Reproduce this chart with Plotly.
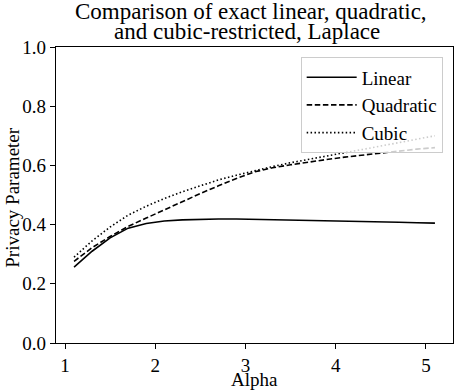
import plotly.graph_objects as go

# values
alpha = [1.1, 1.3, 1.5, 1.7, 1.9, 2.1, 2.3, 2.5, 2.7, 2.9, 3.1,
         3.3, 3.5, 3.7, 3.9, 4.1, 4.3, 4.5, 4.7, 4.9, 5.1]
linear = [0.256, 0.310, 0.355, 0.388, 0.404, 0.412, 0.416, 0.418, 0.419, 0.419, 0.418,
          0.417, 0.416, 0.415, 0.413, 0.412, 0.410, 0.409, 0.408, 0.406, 0.405]
quadratic = [0.276, 0.322, 0.360, 0.394, 0.422, 0.450, 0.478, 0.505, 0.531, 0.556, 0.578,
             0.592, 0.602, 0.612, 0.620, 0.628, 0.635, 0.642, 0.649, 0.655, 0.660]
cubic = [0.290, 0.345, 0.392, 0.432, 0.462, 0.488, 0.511, 0.532, 0.551, 0.567, 0.582,
         0.596, 0.609, 0.621, 0.632, 0.643, 0.654, 0.665, 0.676, 0.688, 0.700]

x_ticks = [1, 2, 3, 4, 5]
y_ticks = [0.0, 0.2, 0.4, 0.6, 0.8, 1.0]

FONT = "Liberation Serif, Times New Roman, Times, serif"


def text_font(size=19):
    return dict(family=FONT, size=size, color="black")


fig = go.Figure()
fig.add_trace(go.Scatter(x=alpha, y=linear, name="Linear", mode="lines",
                         line=dict(color="black", width=1.6)))
fig.add_trace(go.Scatter(x=alpha, y=quadratic, name="Quadratic", mode="lines",
                         line=dict(color="black", width=1.6, dash="5.5px,2.6px")))
fig.add_trace(go.Scatter(x=alpha, y=cubic, name="Cubic", mode="lines",
                         line=dict(color="black", width=1.6, dash="1.5px,2.4px")))

# two title lines placed separately (tight matplotlib line spacing)
fig.add_annotation(text="Comparison of exact linear, quadratic,", xref="paper", yref="paper",
                   x=0.49, y=1.12, xanchor="center", yanchor="middle", showarrow=False,
                   font=text_font(23))
fig.add_annotation(text="and cubic-restricted, Laplace", xref="paper", yref="paper",
                   x=0.48, y=1.054, xanchor="center", yanchor="middle", showarrow=False,
                   font=text_font(23))

# axis titles as annotations so the plot area keeps its place
fig.add_annotation(text="Alpha", xref="paper", yref="paper", x=0.5, y=-0.122,
                   xanchor="center", yanchor="middle", showarrow=False, font=text_font())
fig.add_annotation(text="Privacy Parameter", xref="paper", yref="paper", x=-0.11, y=0.492,
                   xanchor="center", yanchor="middle", textangle=-90, showarrow=False,
                   font=text_font())

axis_style = dict(showgrid=False, zeroline=False, showline=True, linecolor="black",
                  linewidth=1.2, mirror=True, ticks="outside", ticklen=5, tickwidth=1.2,
                  tickcolor="black", tickfont=text_font(), automargin=False)

fig.update_xaxes(range=[0.9, 5.3], tickvals=x_ticks, **axis_style)
fig.update_yaxes(range=[0, 1], tickvals=y_ticks, tickformat=".1f", **axis_style)

fig.update_layout(width=454, height=390,
                  margin=dict(l=56, r=1, t=47, b=47),
                  paper_bgcolor="white", plot_bgcolor="white",
                  font=text_font(),
                  showlegend=True,
                  legend=dict(x=0.974, y=0.965, xanchor="right", yanchor="top",
                              bgcolor="rgba(255,255,255,0.8)", bordercolor="#cccccc",
                              borderwidth=1, itemwidth=50, font=text_font()))

# drop the page's default body margin so the figure sits at the window corner
fig.write_html("out.html", config={"displayModeBar": False},
               post_script="document.body.style.margin = '0';")
